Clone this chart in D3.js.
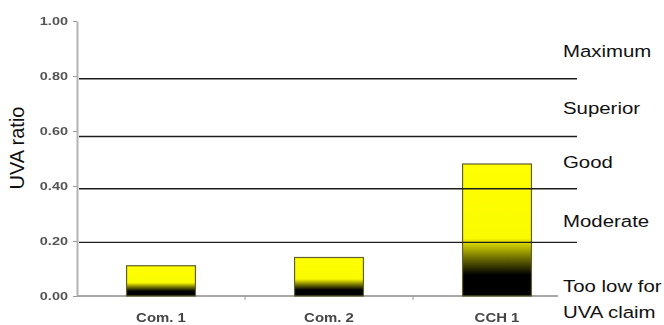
<!DOCTYPE html>
<html>
<head>
<meta charset="utf-8">
<script src="https://cdn.jsdelivr.net/npm/d3@7"></script>
<style>
  html, body { margin: 0; padding: 0; background: #ffffff; }
  svg { display: block; }
  text { font-family: "Liberation Sans", Arial, sans-serif; }
</style>
</head>
<body>
<svg id="chart" width="664" height="325"></svg>
<script>
// Products and their measured UVA ratio
const categories = ["Com. 1", "Com. 2", "CCH 1"];
const uvaRatio = [0.11, 0.14, 0.48];

// Y axis ticks
const yTicks = [0, 0.2, 0.4, 0.6, 0.8, 1.0];

// Rating band boundaries (ratio values where each class starts)
const bandBoundaries = [0.195, 0.39, 0.58, 0.79];

// Rating class names, top to bottom, and the ratio at which each line of text sits
const ratingLines = ["Maximum", "Superior", "Good", "Moderate", "Too low for", "UVA claim"];
const ratingLineAt = [0.89, 0.682, 0.487, 0.271, 0.035, -0.06];

const svg = d3.select("#chart");

const x0 = 77, yBase = 296;
const y = d3.scaleLinear().domain([0, 1]).range([yBase, 21]);
const x = d3.scaleBand().domain(categories).range([x0, 581]).padding(0);
const barW = x.bandwidth() * 0.41;

// soft blur for the small gray axis text
const defs = svg.append("defs");
defs.append("filter").attr("id", "soft")
  .append("feGaussianBlur").attr("stdDeviation", 0.45);

// bar fill: yellow at the top fading to black at the base
const grad = defs.append("linearGradient")
  .attr("id", "barFill").attr("x1", 0).attr("y1", 0).attr("x2", 0).attr("y2", 1);
grad.append("stop").attr("offset", 0).attr("stop-color", "#ffff00");
grad.append("stop").attr("offset", 0.56).attr("stop-color", "#fbfb00");
grad.append("stop").attr("offset", 0.70).attr("stop-color", "#7a7a00");
grad.append("stop").attr("offset", 0.84).attr("stop-color", "#000000");
grad.append("stop").attr("offset", 1).attr("stop-color", "#000000");

// Y axis
const yAxis = svg.append("g")
  .attr("transform", `translate(${x0},0)`)
  .call(d3.axisLeft(y).tickValues(yTicks).tickFormat(d3.format(".2f")).tickSize(4).tickSizeOuter(0));
yAxis.select(".domain").attr("stroke", "#b4b4b4").attr("stroke-width", 2);
yAxis.selectAll(".tick line").attr("stroke", "#9a9a9a").attr("stroke-width", 1);
yAxis.selectAll(".tick text")
  .attr("x", -9 / 1.45)
  .attr("transform", "scale(1.45,1)")
  .attr("font-size", 10)
  .attr("font-weight", "bold")
  .attr("fill", "#555")
  .attr("filter", "url(#soft)");

// baseline and category separators
svg.append("line")
  .attr("x1", x0).attr("x2", 558).attr("y1", yBase).attr("y2", yBase)
  .attr("stroke", "#a8a8a8").attr("stroke-width", 2);
svg.selectAll("line.sep")
  .data(categories.slice(1))
  .join("line").attr("class", "sep")
  .attr("x1", d => x(d)).attr("x2", d => x(d))
  .attr("y1", yBase).attr("y2", yBase + 4)
  .attr("stroke", "#9a9a9a").attr("stroke-width", 1);

// bars
svg.selectAll("rect.bar")
  .data(categories)
  .join("rect").attr("class", "bar")
  .attr("x", d => x(d) + (x.bandwidth() - barW) / 2)
  .attr("width", barW)
  .attr("y", (d, i) => y(uvaRatio[i]))
  .attr("height", (d, i) => yBase - y(uvaRatio[i]))
  .attr("fill", "url(#barFill)")
  .attr("stroke", "#5f5f30")
  .attr("stroke-width", 1.2);

// rating band boundaries
svg.selectAll("line.band")
  .data(bandBoundaries)
  .join("line").attr("class", "band")
  .attr("x1", x0 + 2).attr("x2", 577)
  .attr("y1", d => y(d)).attr("y2", d => y(d))
  .attr("stroke", "#1e1e1e").attr("stroke-width", 1.3);

// category labels
svg.selectAll("text.cat")
  .data(categories)
  .join("text").attr("class", "cat")
  .attr("transform", d => `translate(${x(d) + x.bandwidth() / 2},322) scale(1.15,1)`)
  .attr("text-anchor", "middle")
  .attr("font-size", 13)
  .attr("font-weight", "bold")
  .attr("fill", "#444")
  .attr("filter", "url(#soft)")
  .text(d => d);

// rating class names
svg.selectAll("text.rating")
  .data(ratingLines)
  .join("text").attr("class", "rating")
  .attr("transform", (d, i) => `translate(563,${y(ratingLineAt[i])}) scale(1.2,1)`)
  .attr("dy", "0.35em")
  .attr("font-size", 17)
  .attr("fill", "#111")
  .text(d => d);

// y axis title
svg.append("text")
  .attr("transform", `translate(24,148) rotate(-90)`)
  .attr("text-anchor", "middle")
  .attr("font-size", 20)
  .attr("fill", "#111")
  .text("UVA ratio");
</script>
</body>
</html>
